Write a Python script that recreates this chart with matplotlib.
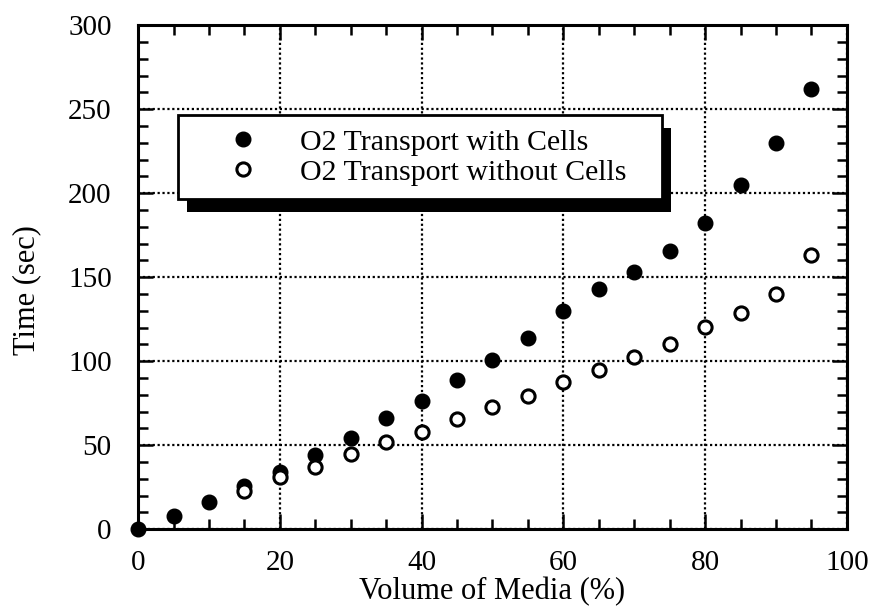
import matplotlib
matplotlib.use("Agg")
import matplotlib.pyplot as plt
from matplotlib.patches import Rectangle
from matplotlib.ticker import MultipleLocator

# Data
volume_with = [0, 5, 10, 15, 20, 25, 30, 35, 40, 45, 50, 55, 60, 65, 70, 75, 80, 85, 90, 95]
time_with = [0, 8, 16, 25.5, 34, 44, 54.5, 66, 76.5, 88.5, 101, 114, 130, 143, 153, 165.5, 182, 205, 230, 262]
volume_without = [15, 20, 25, 30, 35, 40, 45, 50, 55, 60, 65, 70, 75, 80, 85, 90, 95]
time_without = [22.5, 31, 37, 45, 52, 58, 65.5, 73, 79.5, 87.5, 95, 102.5, 110.5, 120.5, 128.5, 140, 163]
label_with = "O2 Transport with Cells"
label_without = "O2 Transport without Cells"
xlabel = "Volume of Media (%)"
ylabel = "Time (sec)"

plt.rcParams['font.family'] = ['Liberation Serif', 'DejaVu Serif']

fig = plt.figure(figsize=(8.74, 6.16), dpi=100)
ax = fig.add_axes([0.158, 0.141, 0.811, 0.818])

ax.plot(volume_with, time_with, 'o', color='black', markersize=10.5, clip_on=False,
        zorder=3, label=label_with)
ax.plot(volume_without, time_without, 'o', markerfacecolor='white', markeredgecolor='black',
        markeredgewidth=2.2, markersize=9.5, clip_on=False, zorder=3, label=label_without)

ax.set_xlim(0, 100)
ax.set_ylim(0, 300)
ax.xaxis.set_major_locator(MultipleLocator(20))
ax.xaxis.set_minor_locator(MultipleLocator(5))
ax.yaxis.set_major_locator(MultipleLocator(50))
ax.yaxis.set_minor_locator(MultipleLocator(10))

ax.grid(True, which='major', linestyle=(0, (1, 1.2)), color='black', linewidth=1.6)
ax.tick_params(which='both', direction='in', top=True, right=True, color='black', width=1.8)
ax.tick_params(which='major', length=11, labelsize=21)
ax.tick_params(axis='x', which='major', pad=15)
ax.tick_params(axis='y', which='major', pad=19)
ax.tick_params(which='minor', length=7)
for s in ax.spines.values():
    s.set_linewidth(2.2)

ax.set_xlabel(xlabel, fontsize=22, labelpad=1)
ax.set_ylabel(ylabel, fontsize=22)
ax.yaxis.set_label_coords(-0.137, 0.474)

leg = ax.legend(loc='upper left', bbox_to_anchor=(0.056, 0.821, 0.683, 0.0), mode='expand',
                borderaxespad=0, fontsize=21.5, frameon=True, fancybox=False,
                edgecolor='black', framealpha=1, handlelength=3.5, handletextpad=0.15,
                borderpad=0.45, labelspacing=0.1)
leg.get_frame().set_linewidth(2)
leg.set_zorder(6)

fig.canvas.draw()
bb = leg.get_window_extent()
shadow = Rectangle((bb.x0 + 9, bb.y0 - 13), bb.width, bb.height, transform=None,
                   facecolor='black', edgecolor='none', zorder=5.5, clip_on=False)
ax.add_artist(shadow)

fig.savefig("out.png", dpi=100)
